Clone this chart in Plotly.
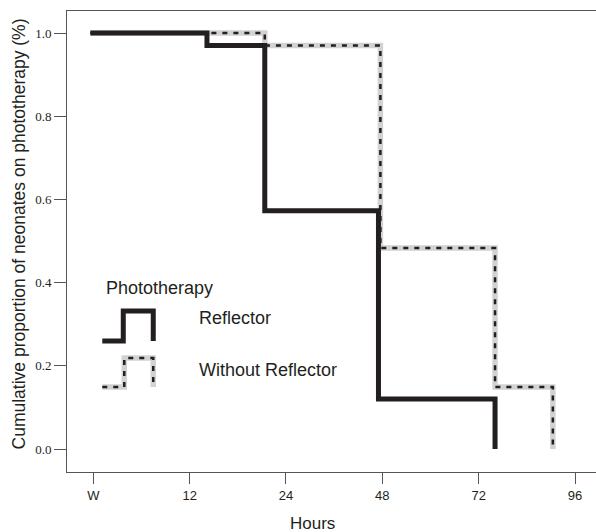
import plotly.graph_objects as go

# Axis categories (equally spaced tick positions)
tick_labels = ["W", "12", "24", "48", "72", "96"]
tick_pos = [0, 1, 2, 3, 4, 5]

# Step data (x in tick-position units, y = cumulative proportion)
reflector_x = [-0.03, 1.18, 1.78, 2.96, 4.17]
reflector_y = [1.0, 0.97, 0.573, 0.12, 0.0]
noreflector_x = [-0.03, 1.78, 2.98, 4.17, 4.77]
noreflector_y = [1.0, 0.97, 0.483, 0.149, 0.0]

y_ticks = [0.0, 0.2, 0.4, 0.6, 0.8, 1.0]

INK = "#231f20"
GREY = "#d2d2d2"

fig = go.Figure()

fig.add_trace(go.Scatter(x=noreflector_x, y=noreflector_y, mode="lines",
                         line=dict(shape="hv", color=GREY, width=5.5),
                         showlegend=False, hoverinfo="skip"))
fig.add_trace(go.Scatter(x=noreflector_x, y=noreflector_y, mode="lines",
                         line=dict(shape="hv", color=INK, width=2.5, dash="5px,6px"),
                         showlegend=False))
fig.add_trace(go.Scatter(x=reflector_x, y=reflector_y, mode="lines",
                         line=dict(shape="hv", color=INK, width=5),
                         showlegend=False))

# Legend glyphs (drawn as paths in data coordinates)
def px2x(p):
    return (p - 93) / 96.4

def py2y(p):
    return (449 - p) / 416

def step_path(x0, x1, x2, yb, yt):
    return (f"M {px2x(x0)},{py2y(yb)} L {px2x(x1)},{py2y(yb)} L {px2x(x1)},{py2y(yt)} "
            f"L {px2x(x2)},{py2y(yt)} L {px2x(x2)},{py2y(yb)}")

fig.add_shape(type="path", path=step_path(102, 123, 153, 341, 311),
              xref="x", yref="y", line=dict(color=INK, width=5))
p2 = step_path(102, 124, 153, 387, 358)
fig.add_shape(type="path", path=p2, xref="x", yref="y", line=dict(color=GREY, width=5.5))
fig.add_shape(type="path", path=p2, xref="x", yref="y",
              line=dict(color=INK, width=2.5, dash="5px,6px"))

legend_font = dict(family="Liberation Sans, Arial, sans-serif", size=18, color=INK)
fig.add_annotation(x=px2x(104), y=py2y(288), text="Phototherapy", showarrow=False,
                   xanchor="left", yanchor="middle", font=legend_font)
fig.add_annotation(x=px2x(197), y=py2y(318), text="Reflector", showarrow=False,
                   xanchor="left", yanchor="middle", font=legend_font)
fig.add_annotation(x=px2x(197), y=py2y(370), text="Without Reflector", showarrow=False,
                   xanchor="left", yanchor="middle", font=legend_font)

# Axis titles
fig.add_annotation(xref="paper", yref="paper", x=0.465, y=-0.111, text="Hours",
                   showarrow=False, xanchor="center", yanchor="middle",
                   font=dict(family="Liberation Sans, Arial, sans-serif", size=17, color=INK))
fig.add_annotation(xref="paper", yref="paper", x=(19 - 66.7) / 529.3, y=0.516,
                   text="Cumulative proportion of neonates on phototherapy (%)",
                   textangle=-90, showarrow=False, xanchor="center", yanchor="middle",
                   font=dict(family="Liberation Sans, Arial, sans-serif", size=17.5, color=INK))

fig.update_xaxes(range=[px2x(66.7), px2x(596)], tickmode="array", tickvals=tick_pos,
                 ticktext=tick_labels, ticks="outside", ticklen=11, tickcolor="#555",
                 showline=True, linecolor="#555", linewidth=1, mirror=True,
                 showgrid=False, zeroline=False,
                 tickfont=dict(family="Liberation Sans, Arial, sans-serif", size=13, color=INK))
fig.update_yaxes(range=[py2y(472), py2y(11)], tickmode="array", tickvals=y_ticks,
                 ticktext=[f"{v:.1f}" for v in y_ticks], ticks="outside", ticklen=12,
                 tickcolor="#555", showline=True, linecolor="#555", linewidth=1,
                 showgrid=False, zeroline=False,
                 tickfont=dict(family="Liberation Serif, Times New Roman, serif", size=13, color=INK))

fig.update_layout(width=596, height=532, margin=dict(l=67, r=0, t=11, b=60),
                  plot_bgcolor="white", paper_bgcolor="white", showlegend=False)

fig.write_html("out.html", config={"displayModeBar": False},
               post_script="document.body.style.margin='0';document.body.style.overflow='hidden';")
